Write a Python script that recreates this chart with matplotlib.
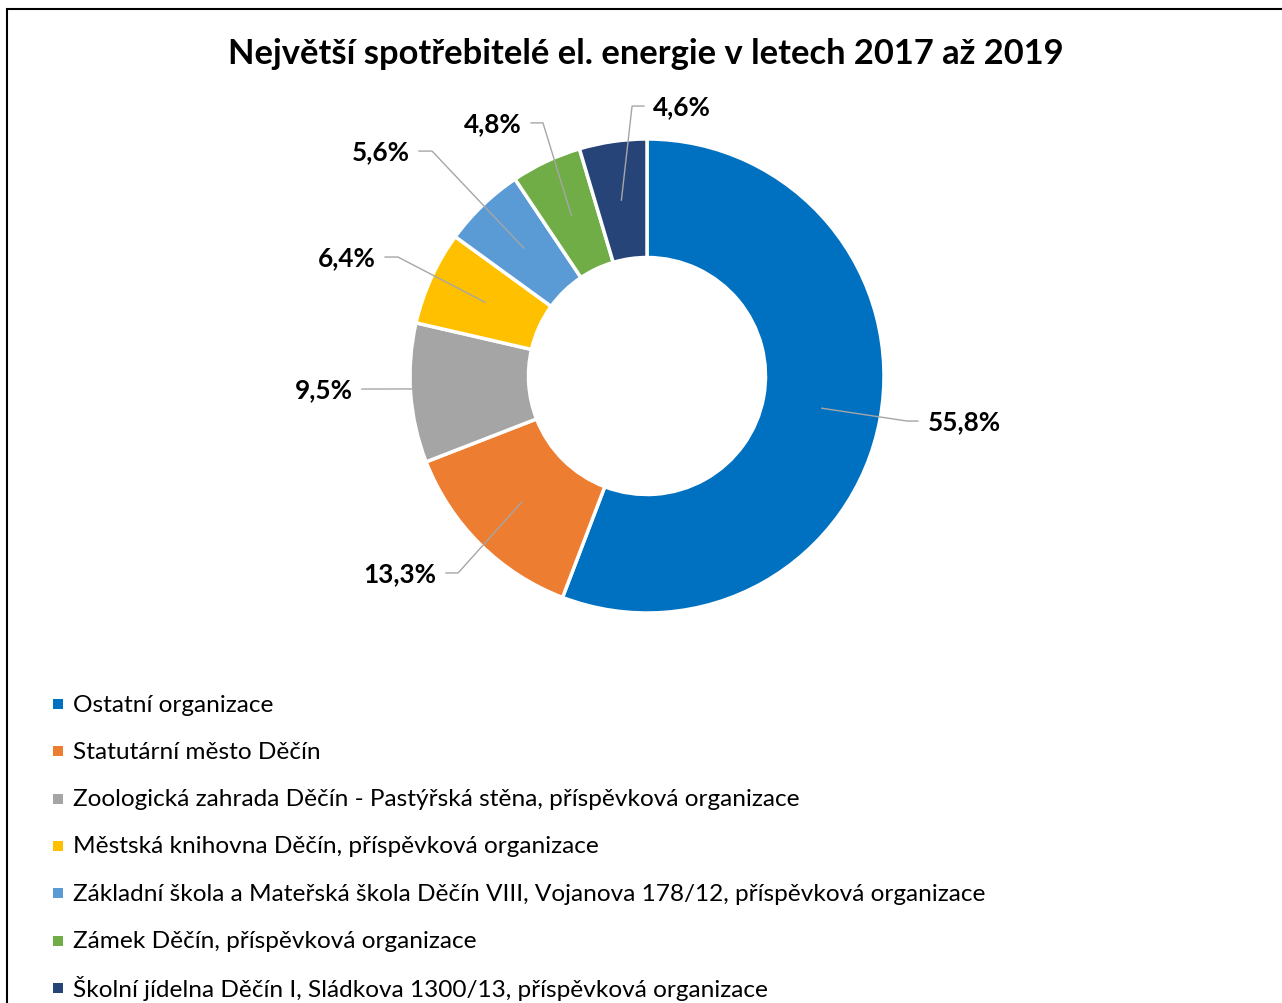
import numpy as np
import matplotlib
matplotlib.use("Agg")
import matplotlib.pyplot as plt
from matplotlib.patches import Rectangle

plt.rcParams['font.family'] = ['Lato', 'DejaVu Sans']

# data
categories = [
    "Ostatní organizace",
    "Statutární město Děčín",
    "Zoologická zahrada Děčín - Pastýřská stěna, příspěvková organizace",
    "Městská knihovna Děčín, příspěvková organizace",
    "Základní škola a Mateřská škola Děčín VIII, Vojanova 178/12, příspěvková organizace",
    "Zámek Děčín, příspěvková organizace",
    "Školní jídelna Děčín I, Sládkova 1300/13, příspěvková organizace",
]
shares = [55.8, 13.3, 9.5, 6.4, 5.6, 4.8, 4.6]
colors = ["#0070C0", "#ED7D31", "#A5A5A5", "#FFC000", "#5B9BD5", "#70AD47", "#264478"]
title = "Největší spotřebitelé el. energie v letech 2017 až 2019"

# label layout: elbow point, end of horizontal tick (data units, radius = 1)
elbows = [(1.097, -0.19), (-0.797, -0.831), (-1.203, -0.055), (-1.051, 0.502),
          (-0.907, 0.949), (-0.439, 1.068), (-0.063, 1.139)]
ends_x = [1.143, -0.848, -1.203, -1.105, -0.962, -0.489, -0.013]

W, H = 1282, 1004
fig = plt.figure(figsize=(W / 100, H / 100), dpi=100)

# chart frame (runs off the right and bottom edges)
fig.add_artist(Rectangle((7 / W, -0.2), 2, 0.2 + (1 - 10 / H), transform=fig.transFigure,
                         fill=False, edgecolor="black", linewidth=1.5))

cx, cy, rad = 647, 377, 237
R = 1.6
ax = fig.add_axes([(cx - R * rad) / W, (H - cy - R * rad) / H, 2 * R * rad / W, 2 * R * rad / H])

wedges, _ = ax.pie(shares, colors=colors, startangle=90, counterclock=False, radius=1,
                   wedgeprops=dict(width=0.5, edgecolor="white", linewidth=2.5))
ax.set_xlim(-R, R)
ax.set_ylim(-R, R)
ax.axis("off")

cum = np.cumsum([0] + shares[:-1])
for i, v in enumerate(shares):
    mid = np.deg2rad(90 - (cum[i] + v / 2) * 3.6)
    sx, sy = 0.75 * np.cos(mid), 0.75 * np.sin(mid)
    ex, ey = elbows[i]
    ax.plot([sx, ex, ends_x[i]], [sy, ey, ey], color="#A6A6A6", lw=1, zorder=3)
    txt = f"{v:.1f}".replace(".", ",") + "%"
    if ends_x[i] > ex:
        ax.text(ends_x[i] + 0.04, ey, txt, ha="left", va="center", fontsize=18.8, fontweight="bold")
    else:
        ax.text(ends_x[i] - 0.04, ey, txt, ha="right", va="center", fontsize=18.8, fontweight="bold")

fig.text(646 / W, 1 - 54 / H, title, ha="center", va="center", fontsize=24.8, fontweight="bold")

# legend
for i, (lab, c) in enumerate(zip(categories, colors)):
    y = 1 - (705 + i * 47.3) / H
    fig.add_artist(Rectangle((53 / W, y - 5 / H), 10 / W, 10 / H, transform=fig.transFigure,
                             facecolor=c, edgecolor="none"))
    fig.text(73 / W, y, lab, ha="left", va="center", fontsize=17.6)

fig.savefig("out.png", dpi=100)
